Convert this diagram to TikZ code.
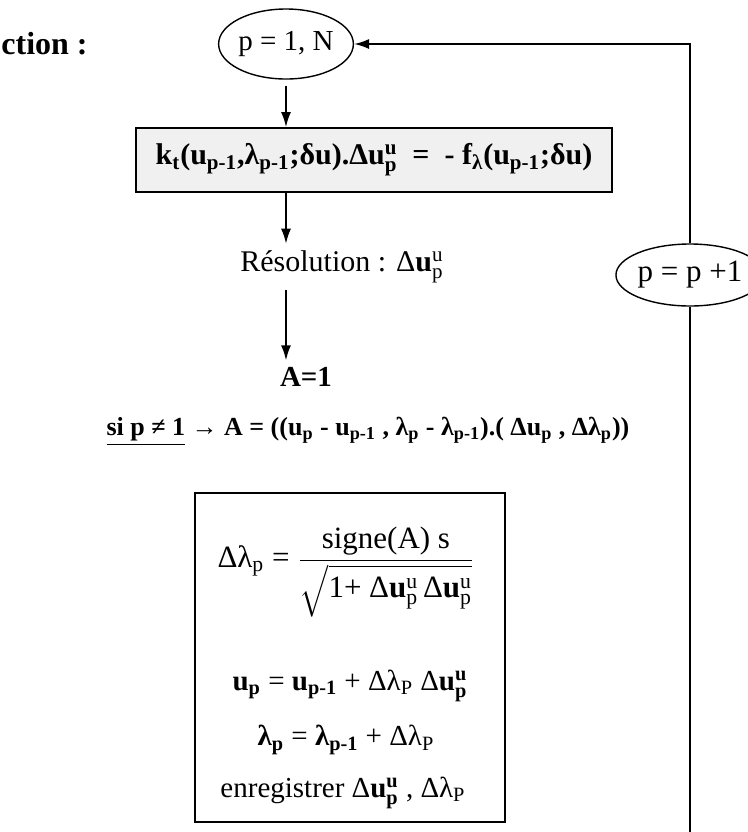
\documentclass[tikz,border=0pt]{standalone}
\usepackage{amsmath}
\usepackage{fontspec}
\setmainfont{Liberation Serif}
\usetikzlibrary{arrows.meta, shapes.geometric}

\newcommand{\bu}{\textbf{u}}
\newcommand{\ud}[2]{\ensuremath{^{\text{#1}}_{\text{#2}}}}

\begin{document}
\begin{tikzpicture}[
        x=0.5pt, y=-0.5pt,
        font=\fontsize{14.5}{17}\selectfont,
        loopell/.style={ellipse, draw, line width=0.7pt, inner sep=0pt},
        calcbox/.style={rectangle, draw, line width=0.9pt, fill=gray!12, minimum width=238pt, minimum height=32pt},
        majbox/.style={rectangle, draw, line width=0.7pt, minimum width=155pt, minimum height=164.5pt},
        arrow/.style={-{Latex[length=7.5pt, width=5pt]}, line width=0.9pt}
    ]
        \useasboundingbox (0,0) rectangle (748,832);

        \node[anchor=west, inner sep=0pt] (titre) at (1,44) {\fontsize{16}{19}\selectfont\textbf{ction :}};
        \node[loopell, minimum width=64pt, minimum height=35pt] (pN) at (286,44) {p = 1, N};
        \node[calcbox] (kt) at (374,160) {\fontsize{15}{18}\selectfont\textbf{k\textsubscript{t}(u\textsubscript{p-1},λ\textsubscript{p-1};δu).Δu\ud{u}{p} \ = \ - f\textsubscript{λ}(u\textsubscript{p-1};δu)}};
        \node (res) at (342,267) {\fontsize{15}{18}\selectfont Résolution : Δ\bu\ud{u}{p}};
        \node (A1) at (306,377) {\textbf{A=1}};
        \node (si) at (368,432) {\fontsize{13}{15}\selectfont\textbf{\underline{si p ≠ 1} → A = ((u\textsubscript{p} - u\textsubscript{p-1} , λ\textsubscript{p} - λ\textsubscript{p-1}).( Δu\textsubscript{p} , Δλ\textsubscript{p}))}};

        \node[majbox] (maj) at (350,657.5) {};
        \node (pas) at (346,572) {\fontsize{15.5}{18}\selectfont Δλ\textsubscript{p} = $\dfrac{\text{signe(A) s}}{\sqrt{\text{1+ Δ}\bu\ud{u}{p}\,\text{Δ}\bu\ud{u}{p}}}$};
        \node (up) at (350,686) {\textbf{u\textsubscript{p}} = \textbf{u\textsubscript{p-1}} + Δλ\textsubscript{P} Δ\textbf{u}\ud{\textbf{u}}{\textbf{p}}};
        \node (lp) at (346,740) {\textbf{λ\textsubscript{p}} = \textbf{λ\textsubscript{p-1}} + Δλ\textsubscript{P}};
        \node (enr) at (343,793) {enregistrer Δ\textbf{u}\ud{\textbf{u}}{\textbf{p}} , Δλ\textsubscript{P}};

        \node[loopell, minimum width=64pt, minimum height=31pt] (pp) at (690,275) {\fontsize{15.5}{18}\selectfont p = p +1};
        \coordinate (bas) at (690,832);

        \draw[arrow] ([yshift=-3pt]pN.south) -- (pN.south |- kt.north);
        \draw[arrow] (kt.south -| pN) -- (res.north -| pN);
        \draw[arrow] (res.south -| pN) -- (A1.north -| pN);
        \draw[line width=0.9pt] (bas) -- (pp.south);
        \draw[arrow] (pp.north) |- (pN.east);
    \end{tikzpicture}
\end{document}
